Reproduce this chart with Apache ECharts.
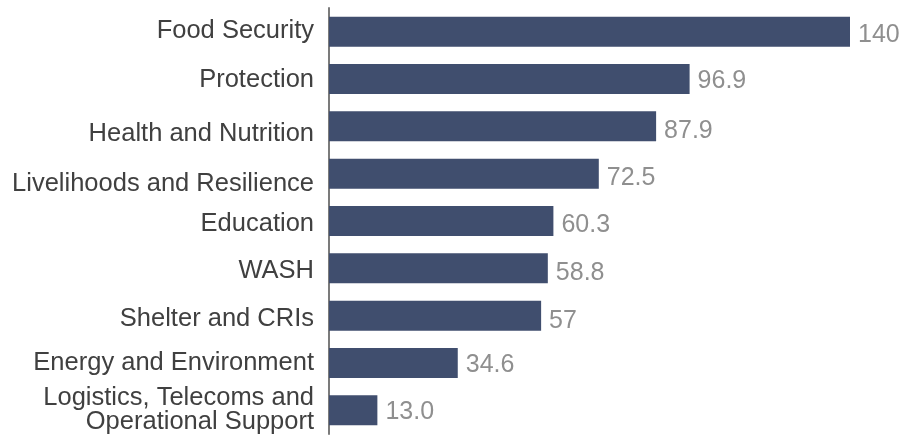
<!DOCTYPE html>
<html>
<head>
<meta charset="utf-8">
<script src="https://cdn.jsdelivr.net/npm/echarts@6/dist/echarts.min.js"></script>
<style>
html,body{margin:0;padding:0;background:#fff;}
#chart{width:923px;height:444px;}
</style>
</head>
<body>
<div id="chart"></div>
<script>
var categories = [
  "Food Security",
  "Protection",
  "Health and Nutrition",
  "Livelihoods and Resilience",
  "Education",
  "WASH",
  "Shelter and CRIs",
  "Energy and Environment",
  "Logistics, Telecoms and\nOperational Support"
];
var values = [140, 96.9, 87.9, 72.5, 60.3, 58.8, 57, 34.6, 13.0];
var valueLabels = ["140", "96.9", "87.9", "72.5", "60.3", "58.8", "57", "34.6", "13.0"];

// small vertical label nudges (style only) to mimic the reference layout
var catShift = [-1, 1, 8, 10, 3, 3, 3, 0, 0];
var valShift = [3, 2, 5, 4, 4, 5, 5, 2, 2];

var font = 'Liberation Sans, Arial, sans-serif';
var catColor = '#404040';
var catSize = 25.5;
var rich = {};
catShift.forEach(function (d, i) {
  rich['s' + i] = {
    color: catColor, fontSize: catSize, fontFamily: font, lineHeight: 24,
    padding: d >= 0 ? [2 * d, 0, 0, 0] : [0, 0, -2 * d, 0]
  };
});
var barData = values.map(function (v, i) {
  return {value: v, label: {offset: [0, valShift[i]]}};
});

var chart = echarts.init(document.getElementById('chart'), null, {renderer: 'canvas'});
chart.setOption({
  animation: false,
  backgroundColor: '#ffffff',
  textStyle: {fontFamily: font},
  grid: {left: 329, right: 73, top: 8, bottom: 10, containLabel: false},
  xAxis: {type: 'value', min: 0, max: 140, show: false},
  yAxis: {
    type: 'category',
    data: categories,
    inverse: true,
    axisLine: {show: true, lineStyle: {color: '#7b7b7b', width: 2}},
    axisTick: {show: false},
    axisLabel: {
      color: catColor, fontSize: catSize, margin: 15, lineHeight: 24, align: 'right',
      fontFamily: font,
      rich: rich,
      formatter: function (value, index) {
        if (catShift[index] === 0) { return value; }
        return '{s' + index + '|' + value + '}';
      }
    }
  },
  series: [{
    type: 'bar',
    data: barData,
    barWidth: 30,
    itemStyle: {color: '#404e6e'},
    label: {
      show: true, position: 'right', distance: 8,
      color: '#8f8f8f', fontSize: 25,
      fontFamily: font,
      formatter: function (p) { return valueLabels[p.dataIndex]; }
    }
  }]
});
</script>
</body>
</html>
